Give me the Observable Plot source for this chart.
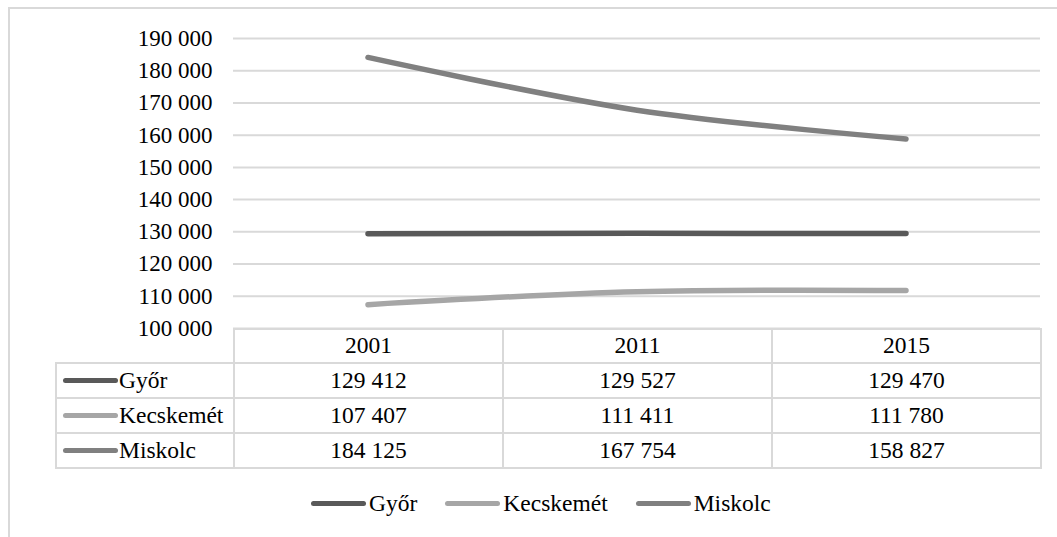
<!DOCTYPE html>
<html>
<head>
<meta charset="utf-8">
<script src="https://cdn.jsdelivr.net/npm/d3@7"></script>
<script src="https://cdn.jsdelivr.net/npm/@observablehq/plot@0.6"></script>
<style>
  html, body { margin: 0; padding: 0; background: #fff; overflow: hidden; }
  #wrap { position: relative; width: 1057px; height: 537px; overflow: hidden; font-family: "Liberation Serif", "Times New Roman", Times, "DejaVu Serif", serif; color: #000; }
  #frame { position: absolute; left: 8px; top: 7px; width: 1200px; height: 700px; border: 2px solid #d9d9d9; box-sizing: border-box; }
  #chart { position: absolute; left: 0; top: 0; }
  #tbl { position: absolute; left: 55px; top: 328px; border-collapse: collapse; table-layout: fixed; font-size: 23.5px; font-family: "Liberation Serif", "Times New Roman", Times, "DejaVu Serif", serif; }
  #tbl td { border: 2px solid #d9d9d9; padding: 0; text-align: center; line-height: 1; white-space: nowrap; }
  #tbl td.blank { border-top: none; border-left: none; }
  #tbl td.lab { text-align: left; }
  .sw { display: inline-block; width: 55px; height: 5.5px; border-radius: 3px; vertical-align: middle; margin-right: 1px; position: relative; top: -2px; }
  #tbl td.lab .sw { margin-left: 6px; }
  #legend { position: absolute; left: 311px; top: 490px; display: flex; gap: 28px; font-size: 23.5px; line-height: 26px; }
  #legend .sw { margin-right: 3px; }
  #legend .it { white-space: nowrap; }
</style>
</head>
<body>
<div id="wrap">
  <div id="frame"></div>
  <div id="chart"></div>
  <table id="tbl"></table>
  <div id="legend"></div>
</div>
<script>
// ---- data ----
const years = ["2001", "2011", "2015"];
const cities = ["Győr", "Kecskemét", "Miskolc"];
const gyor = [129412, 129527, 129470];
const kecskemet = [107407, 111411, 111780];
const miskolc = [184125, 167754, 158827];
const yTicks = [100000, 110000, 120000, 130000, 140000, 150000, 160000, 170000, 180000, 190000];
const colors = ["#595959", "#a6a6a6", "#808080"];

const seriesValues = [gyor, kecskemet, miskolc];
const rows = [];
cities.forEach((c, i) => years.forEach((y, j) => rows.push({city: c, year: y, value: seriesValues[i][j]})));

const loc = d3.formatLocale({decimal: ",", thousands: "\u00a0", grouping: [3], currency: ["", ""]});
const fmt = loc.format(",d");
const serif = "'Liberation Serif', 'Times New Roman', Times, 'DejaVu Serif', serif";

const chart = Plot.plot({
  width: 1057,
  height: 330,
  marginLeft: 233,
  marginRight: 17,
  marginTop: 38,
  marginBottom: 2,
  style: {fontFamily: serif, fontSize: "23px", background: "transparent", overflow: "visible"},
  x: {type: "band", domain: years, padding: 0, axis: null},
  y: {domain: [100000, 190000], ticks: yTicks},
  color: {domain: cities, range: colors},
  marks: [
    Plot.ruleY(yTicks, {stroke: "#d9d9d9", strokeWidth: 2}),
    Plot.axisY({ticks: yTicks, tickFormat: fmt, tickSize: 0, tickPadding: 21, fontSize: 23, fill: "#000", label: null}),
    Plot.line(rows, {x: "year", y: "value", z: "city", stroke: "city", strokeWidth: 5.5, strokeLinecap: "round", strokeLinejoin: "round", curve: "catmull-rom"})
  ]
});
document.getElementById("chart").appendChild(chart);

// ---- data table ----
const tbl = document.getElementById("tbl");
const cg = document.createElement("colgroup");
[178, 269, 269, 269].forEach(w => { const c = document.createElement("col"); c.style.width = w + "px"; cg.appendChild(c); });
tbl.appendChild(cg);
const hr = document.createElement("tr");
hr.style.height = "34px";
const blank = document.createElement("td"); blank.className = "blank"; hr.appendChild(blank);
years.forEach(y => { const td = document.createElement("td"); td.textContent = y; hr.appendChild(td); });
tbl.appendChild(hr);
cities.forEach((c, i) => {
  const tr = document.createElement("tr");
  tr.style.height = "35px";
  const lab = document.createElement("td"); lab.className = "lab";
  const sw = document.createElement("span"); sw.className = "sw"; sw.style.background = colors[i];
  lab.appendChild(sw); lab.appendChild(document.createTextNode(c));
  tr.appendChild(lab);
  seriesValues[i].forEach(v => { const td = document.createElement("td"); td.textContent = fmt(v); tr.appendChild(td); });
  tbl.appendChild(tr);
});

// ---- legend ----
const lg = document.getElementById("legend");
cities.forEach((c, i) => {
  const it = document.createElement("div"); it.className = "it";
  const sw = document.createElement("span"); sw.className = "sw"; sw.style.background = colors[i];
  it.appendChild(sw); it.appendChild(document.createTextNode(c));
  lg.appendChild(it);
});
</script>
</body>
</html>
